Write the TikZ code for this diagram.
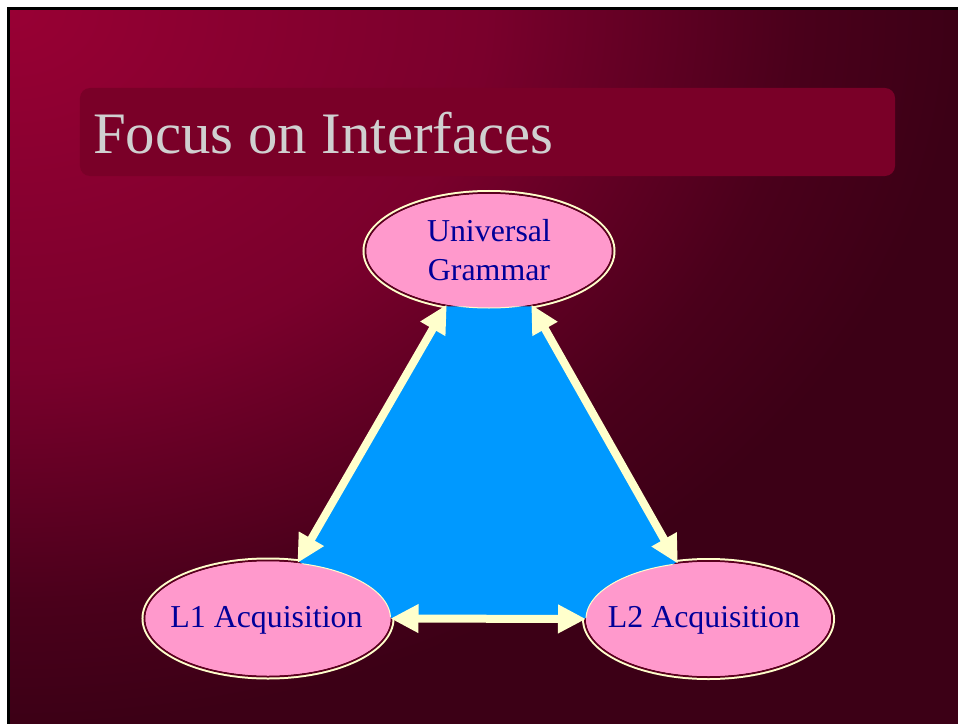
\documentclass[tikz,border=0pt]{standalone}
\usepackage{fontspec}
\setmainfont{Liberation Serif}
\usetikzlibrary{arrows.meta,shapes.geometric}
\definecolor{bgA}{RGB}{152,0,52}
\definecolor{bgB}{RGB}{122,0,44}
\definecolor{bgM}{RGB}{74,0,27}
\definecolor{bgC}{RGB}{60,0,22}
\definecolor{boxred}{RGB}{122,0,40}
\definecolor{titlegray}{RGB}{208,208,208}
\definecolor{pinkfill}{RGB}{255,153,204}
\definecolor{cream}{RGB}{255,255,204}
\definecolor{darkrim}{RGB}{90,0,30}
\definecolor{skyblue}{RGB}{0,153,255}
\definecolor{navy}{RGB}{0,0,153}
\pgfdeclareradialshading{slidebg}{\pgfpoint{0bp}{0bp}}{color(0bp)=(bgA); color(9.62bp)=(bgB); color(15.96bp)=(bgM); color(19.23bp)=(bgC); color(50bp)=(bgC)}
\begin{document}
\begin{tikzpicture}[x=1bp,y=-1bp,
  bubble/.style={ellipse, inner sep=0pt, minimum width=247bp, minimum height=116bp,
    fill=pinkfill, draw=darkrim, line width=2bp, preaction={draw=cream, line width=6bp}},
  lbl/.style={text=navy, font=\fontsize{32}{39}\selectfont, align=center, inner sep=0pt},
  link/.style={draw=cream, line width=8bp,
    {Triangle[length=28bp,width=27bp]}-{Triangle[length=28bp,width=27bp]},
    shorten <=-2bp, shorten >=-2bp},
  titlebox/.style={fill=boxred, rounded corners=10bp, minimum width=815bp, minimum height=88bp, inner sep=0pt},
  titletext/.style={text=titlegray, font=\fontsize{59}{59}\selectfont, inner sep=0pt},
  refill/.style={fill=pinkfill},
]
\useasboundingbox (0,0) rectangle (958,724);
\fill[white] (0,0) rectangle (958,724);
% slide background
\begin{scope}
  \clip (10,10) rectangle (958,724);
  \fill[bgC] (10,10) rectangle (958,724);
  \shade[shading=slidebg] (10,10) ellipse [x radius=1235bp, y radius=930bp];
\end{scope}
\draw[black, line width=3bp] (8.5,8.5) rectangle (962,728);

% title
\node[titlebox] (tbox) at (487.5,132) {};
\node[titletext, anchor=base west] (title) at (93,154) {Focus on Interfaces};

% ellipses (shapes)
\node[bubble] (UG) at (489,251) {};
\node[bubble] (L1) at (268,618.5) {};
\node[bubble] (L2) at (708.5,619) {};

% blue region
\fill[skyblue] (UG.232) -- (UG.-52) -- (L2.119) -- (L2.west) -- (L1.east) -- (L1.62) -- cycle;

% pink interiors on top of the blue
\fill[refill] (UG.center) ellipse [x radius=122.5bp, y radius=57bp];
\fill[refill] (L1.center) ellipse [x radius=122.5bp, y radius=57bp];
\fill[refill] (L2.center) ellipse [x radius=122.5bp, y radius=57bp];
\begin{scope}
  \clip (UG.232) -- (UG.-52) -- (L2.119) -- (L2.west) -- (L1.east) -- (L1.62) -- cycle;
  \draw[cream, line width=1bp] (UG.center) ellipse [x radius=122.5bp, y radius=57bp];
  \draw[cream, line width=1bp] (L1.center) ellipse [x radius=122.5bp, y radius=57bp];
  \draw[cream, line width=1bp] (L2.center) ellipse [x radius=122.5bp, y radius=57bp];
\end{scope}

% labels
\node[lbl] (UGt) at (489,250) {Universal\\Grammar};
\node[lbl, anchor=base] (L1t) at (266.5,627) {L1 Acquisition};
\node[lbl, anchor=base] (L2t) at (704,627) {L2 Acquisition};

% arrows
\draw[link] (L1.62) -- (UG.232);
\draw[link] (UG.-52) -- (L2.119);
\draw[link] (L1.east) -- (L2.west);
\end{tikzpicture}
\end{document}
